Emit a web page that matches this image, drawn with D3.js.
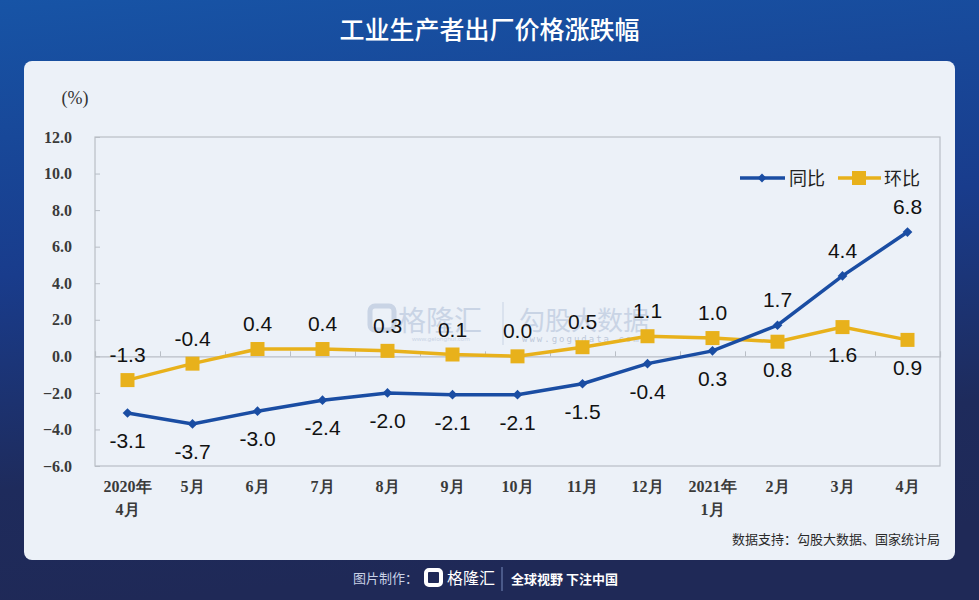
<!DOCTYPE html>
<html>
<head>
<meta charset="utf-8">
<script src="https://cdn.jsdelivr.net/npm/d3@7"></script>
<style>
    html, body { margin: 0; padding: 0; background: #1f2a58; }
    svg { display: block; }
</style>
</head>
<body>
<svg id="chart" width="979" height="600"></svg>
<script>
// data
const months = ["2020年\n4月", "5月", "6月", "7月", "8月", "9月", "10月", "11月", "12月", "2021年\n1月", "2月", "3月", "4月"];
const yoy = [-3.1, -3.7, -3.0, -2.4, -2.0, -2.1, -2.1, -1.5, -0.4, 0.3, 1.7, 4.4, 6.8];
const mom = [-1.3, -0.4, 0.4, 0.4, 0.3, 0.1, 0.0, 0.5, 1.1, 1.0, 0.8, 1.6, 0.9];
const yTicks = [-6, -4, -2, 0, 2, 4, 6, 8, 10, 12];
// which labels sit below the point
const yoyBelow = [1, 1, 1, 1, 1, 1, 1, 1, 1, 1, 0, 0, 0];
const momBelow = [0, 0, 0, 0, 0, 0, 0, 0, 0, 0, 1, 1, 1];

const svg = d3.select("#chart");
const W = 979, H = 600;

const defs = svg.append("defs");
const grad = defs.append("linearGradient").attr("id", "bg").attr("x1", 0).attr("y1", 0).attr("x2", 0.15).attr("y2", 1);
grad.append("stop").attr("offset", "0%").attr("stop-color", "#1754a6");
grad.append("stop").attr("offset", "45%").attr("stop-color", "#193c8c");
grad.append("stop").attr("offset", "80%").attr("stop-color", "#1e2b5c");
grad.append("stop").attr("offset", "100%").attr("stop-color", "#1f2957");

svg.append("rect").attr("width", W).attr("height", H).attr("fill", "url(#bg)");

svg.append("text")
    .attr("x", W / 2).attr("y", 39)
    .attr("text-anchor", "middle")
    .attr("font-family", "Noto Sans CJK SC")
    .attr("font-size", "25px")
    .attr("font-weight", 500)
    .attr("fill", "#ffffff")
    .text("工业生产者出厂价格涨跌幅");

// card
svg.append("rect")
    .attr("x", 24).attr("y", 61).attr("width", 931).attr("height", 499)
    .attr("rx", 8)
    .attr("fill", "#ecf1f8");

const plot = { left: 95, right: 940, top: 137, bottom: 466 };

const x = d3.scaleBand().domain(months).range([plot.left, plot.right]).padding(0);
const y = d3.scaleLinear().domain([-6, 12]).range([plot.bottom, plot.top]);
const cx = (d, i) => x(months[i]) + x.bandwidth() / 2;

// watermark
const wm = svg.append("g").attr("opacity", 0.55);
wm.append("rect").attr("x", 370).attr("y", 306).attr("width", 24).attr("height", 24).attr("rx", 5)
    .attr("fill", "none").attr("stroke", "#aebdd6").attr("stroke-width", 5);
wm.append("text").attr("x", 398).attr("y", 331)
    .attr("font-family", "Noto Sans CJK SC").attr("font-size", "28px").attr("fill", "#aebdd6").text("格隆汇");
wm.append("text").attr("x", 412).attr("y", 341)
    .attr("font-family", "Noto Sans").attr("font-size", "6px").attr("fill", "#aebdd6").text("www.gelonghui.com");
wm.append("line").attr("x1", 503).attr("x2", 503).attr("y1", 302).attr("y2", 345)
    .attr("stroke", "#aebdd6").attr("stroke-width", 1);
wm.append("text").attr("x", 519).attr("y", 330)
    .attr("font-family", "Noto Sans CJK SC").attr("font-size", "26px").attr("fill", "#aebdd6").text("勾股大数据");
wm.append("text").attr("x", 522).attr("y", 342)
    .attr("font-family", "DejaVu Sans Mono").attr("font-size", "9px").attr("letter-spacing", "2px")
    .attr("fill", "#98a8c2").text("www.gogudata.com");

// plot frame
svg.append("rect")
    .attr("x", plot.left).attr("y", plot.top)
    .attr("width", plot.right - plot.left).attr("height", plot.bottom - plot.top)
    .attr("fill", "none").attr("stroke", "#b9bec6").attr("stroke-width", 1.2);

// y axis
const yAxis = svg.append("g")
    .attr("transform", `translate(${plot.left},0)`)
    .call(d3.axisLeft(y).tickValues(yTicks).tickSize(-5).tickPadding(23).tickFormat(d3.format(".1f")));
yAxis.select(".domain").remove();
yAxis.selectAll("line").attr("stroke", "#b9bec6");
yAxis.selectAll("text")
    .attr("font-family", "Liberation Serif")
    .attr("font-size", "16px")
    .attr("font-weight", "bold")
    .attr("fill", "#3a3a3a");

svg.append("text")
    .attr("x", 75).attr("y", 104)
    .attr("text-anchor", "middle")
    .attr("font-family", "Liberation Serif")
    .attr("font-size", "18px")
    .attr("fill", "#333")
    .text("(%)");

// zero line with band ticks
const xAxis = svg.append("g")
    .attr("transform", `translate(0,${y(0)})`)
    .call(d3.axisBottom(d3.scaleLinear().domain([0, months.length]).range([plot.left, plot.right]))
        .tickValues(d3.range(1, months.length)).tickSize(-5).tickFormat(""));
xAxis.select(".domain").attr("stroke", "#b9bec6").attr("stroke-width", 1.2);
xAxis.selectAll("line").attr("stroke", "#b9bec6");

// category labels
const xl = svg.append("g");
months.forEach((m, i) => {
    const t = xl.append("text")
        .attr("x", cx(m, i)).attr("y", 492)
        .attr("text-anchor", "middle")
        .attr("font-family", "Liberation Serif")
        .attr("font-size", "16px")
        .attr("font-weight", "bold")
        .attr("fill", "#3a3a3a");
    m.split("\n").forEach((s, k) => {
        t.append("tspan").attr("x", cx(m, i)).attr("dy", k ? 23 : 0).text(s);
    });
});

const line = d3.line().x(cx).y(d => y(d));

// 环比
svg.append("path").datum(mom)
    .attr("d", line).attr("fill", "none")
    .attr("stroke", "#e8b11b").attr("stroke-width", 3.5);
svg.append("g").selectAll("rect").data(mom).join("rect")
    .attr("x", (d, i) => cx(d, i) - 7).attr("y", d => y(d) - 7)
    .attr("width", 14).attr("height", 14)
    .attr("fill", "#e8b11b");

// 同比
svg.append("path").datum(yoy)
    .attr("d", line).attr("fill", "none")
    .attr("stroke", "#1a4da3").attr("stroke-width", 3.5);
svg.append("g").selectAll("path").data(yoy).join("path")
    .attr("d", d3.symbol(d3.symbolDiamond2, 60))
    .attr("transform", (d, i) => `translate(${cx(d, i)},${y(d)})`)
    .attr("fill", "#1a4da3");

// data labels
function labels(data, below) {
    svg.append("g").selectAll("text").data(data).join("text")
        .attr("x", cx)
        .attr("y", (d, i) => y(d) + (below[i] ? 35 : -18))
        .attr("text-anchor", "middle")
        .attr("font-family", "Liberation Sans")
        .attr("font-size", "21px")
        .attr("fill", "#111")
        .text(d => d.toFixed(1));
}
labels(mom, momBelow);
labels(yoy, yoyBelow);

// legend
const lg = svg.append("g").attr("transform", "translate(0,178)");
lg.append("line").attr("x1", 740).attr("x2", 785).attr("stroke", "#1a4da3").attr("stroke-width", 3.5);
lg.append("path").attr("d", d3.symbol(d3.symbolDiamond2, 50)).attr("transform", "translate(762,0)").attr("fill", "#1a4da3");
lg.append("text").attr("x", 789).attr("y", 7)
    .attr("font-family", "Noto Sans CJK SC").attr("font-size", "18px").attr("fill", "#222").text("同比");
lg.append("line").attr("x1", 838).attr("x2", 881).attr("stroke", "#e8b11b").attr("stroke-width", 3.5);
lg.append("rect").attr("x", 852).attr("y", -7).attr("width", 14).attr("height", 14).attr("fill", "#e8b11b");
lg.append("text").attr("x", 884).attr("y", 7)
    .attr("font-family", "Noto Sans CJK SC").attr("font-size", "18px").attr("fill", "#222").text("环比");

// source
svg.append("text")
    .attr("x", 940).attr("y", 544)
    .attr("text-anchor", "end")
    .attr("font-family", "Noto Sans CJK SC")
    .attr("font-size", "13px")
    .attr("fill", "#2a2a2a")
    .text("数据支持：勾股大数据、国家统计局");

// footer
const ft = svg.append("g");
ft.append("text").attr("x", 353).attr("y", 583)
    .attr("font-family", "Noto Sans CJK SC").attr("font-size", "13px").attr("fill", "#c9d1e6").text("图片制作：");
ft.append("rect").attr("x", 426).attr("y", 570).attr("width", 15).attr("height", 15).attr("rx", 3)
    .attr("fill", "none").attr("stroke", "#ffffff").attr("stroke-width", 4);
ft.append("text").attr("x", 447).attr("y", 584)
    .attr("font-family", "Noto Sans CJK SC").attr("font-size", "16px").attr("fill", "#ffffff").text("格隆汇");
ft.append("line").attr("x1", 502).attr("x2", 502).attr("y1", 567).attr("y2", 591)
    .attr("stroke", "#5a6a9a").attr("stroke-width", 1.5);
ft.append("text").attr("x", 511).attr("y", 584)
    .attr("font-family", "Noto Sans CJK SC").attr("font-size", "13px").attr("font-weight", "bold")
    .attr("fill", "#ffffff").text("全球视野 下注中国");
</script>
</body>
</html>
